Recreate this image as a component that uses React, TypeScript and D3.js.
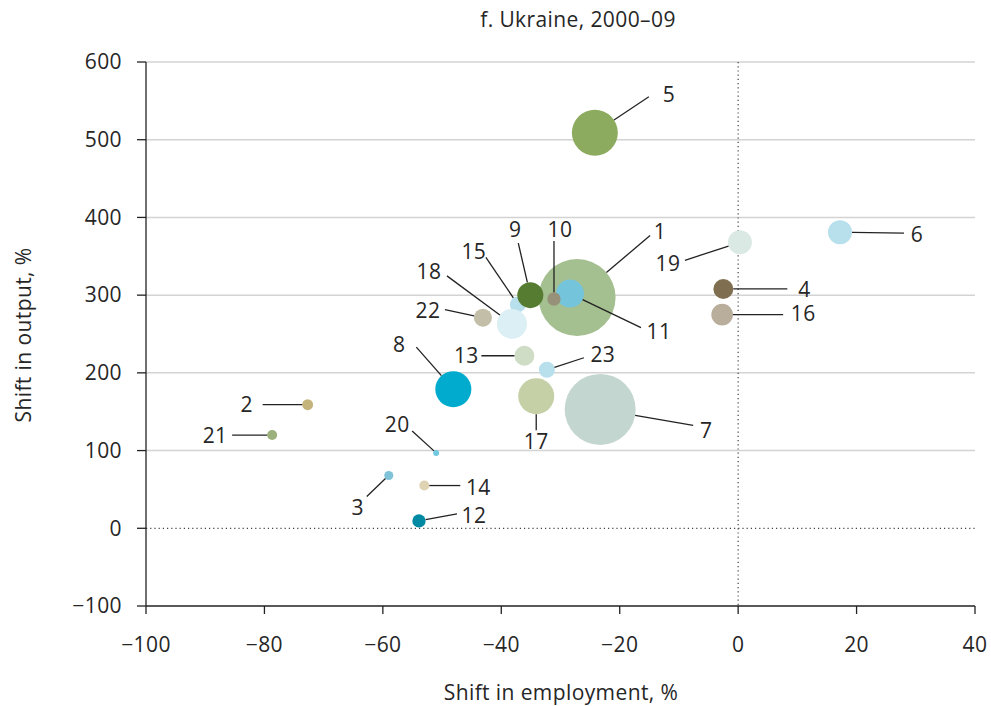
// @ts-nocheck
import React, { useEffect, useRef } from 'react';
import * as d3 from 'd3';

const width = 991, height = 706;

const sectors = ['1', '2', '3', '4', '5', '6', '7', '8', '9', '10', '11', '12', '13', '14', '15', '16', '17', '18', '19', '20', '21', '22', '23'];
const employmentShift = [-27.2, -72.7, -59, -2.5, -24.2, 17.2, -23.3, -48.1, -35.1, -31.1, -28.4, -53.9, -36.1, -53, -37.2, -2.7, -34.1, -38.2, 0.3, -51, -78.7, -43.1, -32.3];
const outputShift = [297, 159, 68, 308, 509, 381, 153, 179, 300, 295, 302, 9.5, 222, 55, 288, 275, 170, 263, 368, 97, 120, 271, 204];
const sizeShare = [100, 2.0, 1.4, 6.7, 35.7, 9.7, 85, 21.9, 11.4, 3.0, 13.2, 3.0, 6.7, 1.7, 4.3, 7.9, 21.9, 15.2, 9.7, 0.6, 1.7, 5.5, 4.3];
const colors = ['#a4bf90', '#c4b47c', '#80c2d7', '#7f6f50', '#8dab5f', '#b7dfec', '#c4d6d0', '#00abcd', '#567c31', '#97917a', '#74c4dc', '#0089a3', '#d0ddc6', '#ded3b3', '#b7dfec', '#b9ad9b', '#c5d0a7', '#dbeff5', '#dbe9e4', '#70c9e0', '#9cb07c', '#c3bea7', '#b7dfec'];

// leader line end (dx, dy) and label centre (tx, ty), pixels from bubble centre
const labelPlacement = [
  [73, -62, 83, -66], [-45, 0, -61, 0], [-22, 21, -31, 32], [64, 0, 81, 1], [54, -36, 74, -38],
  [64, 1, 77, 2], [93, 16, 106, 21], [-37, -42, -54, -45], [-12, -52, -15, -65], [0, -58, 6, -69],
  [71, 34, 89, 38], [38, -7, 55, -5], [-43, 0, -58, 0], [36, 0, 54, 2], [-32, -47, -44, -53],
  [61, 0, 81, -1], [0, 34, 0, 45], [-65, -48, -83, -52], [-55, 18, -72, 21], [-24, -22, -39, -28],
  [-40, 0, -57, 1], [-38, -8, -55, -7], [37, -12, 56, -15]
];

const xTicks = [-100, -80, -60, -40, -20, 0, 20, 40];
const yTicks = [-100, 0, 100, 200, 300, 400, 500, 600];
const drawOrder = [1, 7, 5, 15, 8, 17, 18, 11, 9, 19, 6, 16, 4, 13, 22, 23, 10, 2, 12, 21, 14, 3, 20];

const fmt = (v: number) => (v < 0 ? '\u2212' + Math.abs(v) : String(v));

export default function App() {
  const ref = useRef(null);

  useEffect(() => {
    const svg = d3.select(ref.current);
    svg.selectAll('*').remove();

    const x = d3.scaleLinear().domain([-100, 40]).range([146, 975]);
    const y = d3.scaleLinear().domain([-100, 600]).range([606, 62]);
    const r = d3.scaleSqrt().domain([0, 100]).range([0, 38.5]);
    const font = '"Open Sans", "Noto Sans", sans-serif';
    const txt = (sel, size = 21) => sel
      .style('font-family', font)
      .style('font-size', `${size}px`)
      .style('font-weight', 400)
      .style('letter-spacing', '0.4px')
      .attr('fill', '#262626');

    /* Title */
    svg.append('text')
      .attr('x', 578).attr('y', 27)
      .attr('text-anchor', 'middle')
      .call(txt)
      .text('f. Ukraine, 2000\u201309');

    /* Grid */
    svg.append('g')
      .selectAll('line')
      .data(yTicks.filter(t => t !== 0 && t !== -100))
      .join('line')
      .attr('x1', x(-100)).attr('x2', x(40))
      .attr('y1', d => y(d)).attr('y2', d => y(d))
      .attr('stroke', '#d3d3d3').attr('stroke-width', 1.5);

    /* Zero lines */
    svg.append('line')
      .attr('x1', x(-100)).attr('x2', x(40))
      .attr('y1', y(0)).attr('y2', y(0))
      .attr('stroke', '#444').attr('stroke-width', 1.2)
      .attr('stroke-dasharray', '1.2,3');
    svg.append('line')
      .attr('x1', x(0)).attr('x2', x(0))
      .attr('y1', y(600)).attr('y2', y(-100))
      .attr('stroke', '#444').attr('stroke-width', 1.2)
      .attr('stroke-dasharray', '1.2,3');

    /* Axes */
    svg.append('line')
      .attr('x1', x(-100)).attr('x2', x(40))
      .attr('y1', y(-100)).attr('y2', y(-100))
      .attr('stroke', '#222').attr('stroke-width', 1.3);
    svg.append('line')
      .attr('x1', x(-100)).attr('x2', x(-100))
      .attr('y1', y(600)).attr('y2', y(-100))
      .attr('stroke', '#222').attr('stroke-width', 1.3);

    svg.append('g')
      .selectAll('line')
      .data(xTicks)
      .join('line')
      .attr('x1', d => x(d)).attr('x2', d => x(d))
      .attr('y1', y(-100)).attr('y2', y(-100) + 8)
      .attr('stroke', '#222').attr('stroke-width', 1.3);
    svg.append('g')
      .selectAll('text')
      .data(xTicks)
      .join('text')
      .attr('x', d => x(d)).attr('y', 652)
      .attr('text-anchor', 'middle')
      .call(txt)
      .text(fmt);

    svg.append('g')
      .selectAll('line')
      .data(yTicks)
      .join('line')
      .attr('x1', x(-100) - 9).attr('x2', x(-100))
      .attr('y1', d => y(d)).attr('y2', d => y(d))
      .attr('stroke', '#222').attr('stroke-width', 1.3);
    svg.append('g')
      .selectAll('text')
      .data(yTicks)
      .join('text')
      .attr('x', 122).attr('y', d => y(d))
      .attr('dy', '0.35em')
      .attr('text-anchor', 'end')
      .call(txt)
      .text(fmt);

    svg.append('text')
      .attr('x', 561).attr('y', 700)
      .attr('text-anchor', 'middle')
      .call(txt)
      .text('Shift in employment, %');
    svg.append('text')
      .attr('transform', 'translate(31,335) rotate(-90)')
      .attr('text-anchor', 'middle')
      .call(txt)
      .text('Shift in output, %');

    const data = sectors.map((s, i) => ({
      name: s,
      cx: x(employmentShift[i]),
      cy: y(outputShift[i]),
      r: r(sizeShare[i]),
      color: colors[i],
      lp: labelPlacement[i]
    }));
    const ordered = drawOrder.map(id => data[id - 1]);

    /* Bubbles */
    svg.append('g')
      .selectAll('circle')
      .data(ordered)
      .join('circle')
      .attr('cx', d => d.cx).attr('cy', d => d.cy).attr('r', d => d.r)
      .attr('fill', d => d.color);

    /* Leader lines */
    svg.append('g')
      .selectAll('line')
      .data(data)
      .join('line')
      .attr('x1', d => {
        const [dx, dy] = d.lp; const len = Math.hypot(dx, dy);
        return d.cx + dx / len * d.r;
      })
      .attr('y1', d => {
        const [dx, dy] = d.lp; const len = Math.hypot(dx, dy);
        return d.cy + dy / len * d.r;
      })
      .attr('x2', d => d.cx + d.lp[0]).attr('y2', d => d.cy + d.lp[1])
      .attr('stroke', '#222').attr('stroke-width', 1.3);

    /* Labels */
    svg.append('g')
      .selectAll('text')
      .data(data)
      .join('text')
      .attr('x', d => d.cx + d.lp[2]).attr('y', d => d.cy + d.lp[3])
      .attr('dy', '0.35em')
      .attr('text-anchor', 'middle')
      .call(txt)
      .text(d => d.name);
  }, []);

  return (
    <svg ref={ref} width={width} height={height}
      style={{ position: 'absolute', left: 0, top: 0, background: '#fff' }} />
  );
}
